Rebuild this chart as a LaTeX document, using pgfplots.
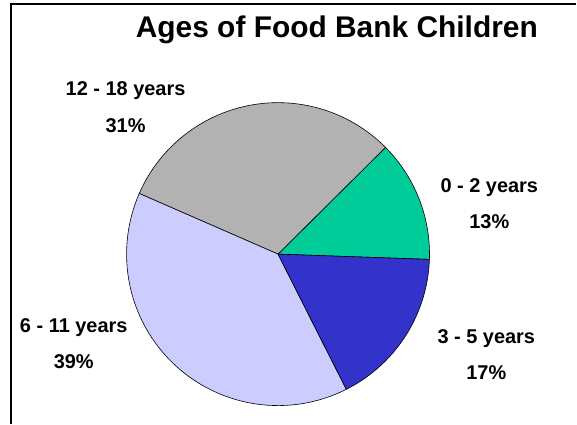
\documentclass[border=0pt]{standalone}
\usepackage{pgfplots}
\pgfplotsset{compat=1.18}
\usepackage{fontspec}
\setmainfont{Liberation Sans}
\definecolor{cgreen}{HTML}{00CC99}
\definecolor{cgray}{HTML}{B2B2B2}
\definecolor{clav}{HTML}{CCCCFF}
\definecolor{cblue}{HTML}{3333CC}
% shares (percent)
\def\vA{13}% 0 - 2 years
\def\vB{31}% 12 - 18 years
\def\vC{39}% 6 - 11 years
\def\vD{17}% 3 - 5 years
\pgfmathsetmacro{\aA}{-2}
\pgfmathsetmacro{\aB}{\aA+3.6*\vA}
\pgfmathsetmacro{\aC}{\aB+3.6*\vB}
\pgfmathsetmacro{\aD}{\aC+3.6*\vC}
\pgfmathsetmacro{\aE}{\aD+3.6*\vD}
\begin{document}
\begin{tikzpicture}
\path (0pt,0pt) rectangle (577pt,425pt);
\draw[line width=2pt] (10.8pt,0pt) -- (10.8pt,421pt) -- (578pt,421pt);
\begin{axis}[
  at={(279pt,170pt)}, anchor=center,
  scale only axis, width=304pt, height=304pt,
  xmin=-1, xmax=1, ymin=-1, ymax=1,
  hide axis, clip=false,
]
\addplot[fill=cgreen, draw=black, line width=0.6pt, domain=\aA:\aB, samples=60, variable=\t] ({cos(t)},{sin(t)}) -- (axis cs:0,0) -- cycle;
\addplot[fill=cgray, draw=black, line width=0.6pt, domain=\aB:\aC, samples=60, variable=\t] ({cos(t)},{sin(t)}) -- (axis cs:0,0) -- cycle;
\addplot[fill=clav, draw=black, line width=0.6pt, domain=\aC:\aD, samples=60, variable=\t] ({cos(t)},{sin(t)}) -- (axis cs:0,0) -- cycle;
\addplot[fill=cblue, draw=black, line width=0.6pt, domain=\aD:\aE, samples=60, variable=\t] ({cos(t)},{sin(t)}) -- (axis cs:0,0) -- cycle;
\end{axis}
\node[anchor=base, font=\fontsize{30}{34}\selectfont\bfseries] at (338pt,387.3pt) {Ages of Food Bank Children};
\begin{scope}[every node/.style={anchor=base, inner sep=0pt, font=\fontsize{20}{24}\selectfont\bfseries}]
\node at (126pt,329pt) {12 - 18 years};
\node at (126pt,292pt) {\vB\%};
\node at (491pt,231.7pt) {0 - 2 years};
\node at (491pt,195.7pt) {\vA\%};
\node at (488pt,80pt) {3 - 5 years};
\node at (488pt,44.3pt) {\vD\%};
\node at (74pt,91.7pt) {6 - 11 years};
\node at (74pt,55pt) {\vC\%};
\end{scope}
\end{tikzpicture}
\end{document}
